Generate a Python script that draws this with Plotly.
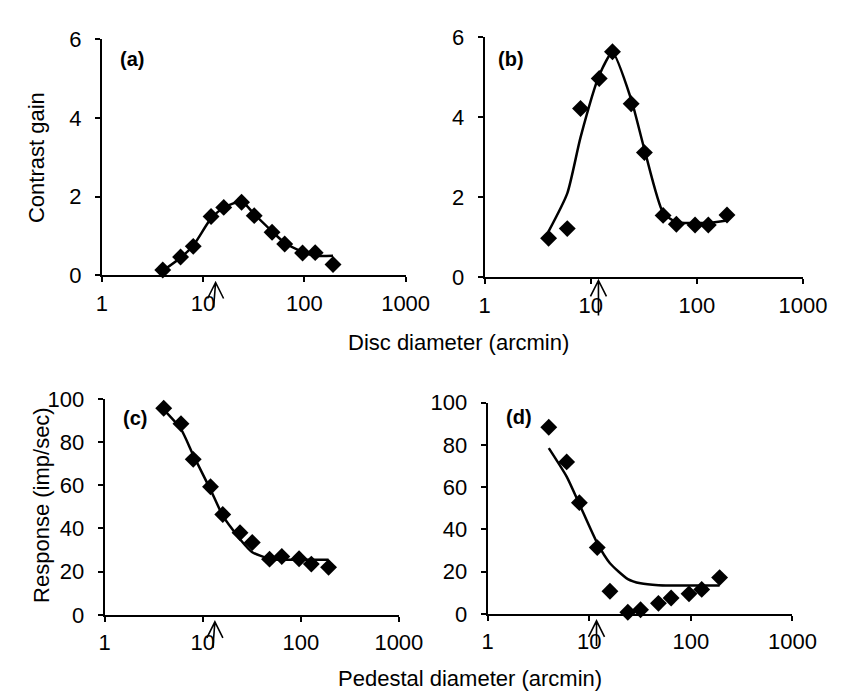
import plotly.graph_objects as go

# ---- data ----
diam = [4, 6, 8, 12, 16, 24, 32, 48, 64, 96, 128, 192]

gain_a = [0.14, 0.47, 0.74, 1.50, 1.73, 1.86, 1.52, 1.10, 0.80, 0.57, 0.58, 0.28]
fit_a = [0.12, 0.45, 0.76, 1.45, 1.72, 1.88, 1.56, 1.12, 0.83, 0.60, 0.50, 0.50]

gain_b = [0.98, 1.22, 4.22, 4.97, 5.64, 4.34, 3.12, 1.55, 1.33, 1.31, 1.31, 1.56]
fit_b = [1.15, 2.10, 3.50, 5.05, 5.62, 4.45, 3.20, 1.62, 1.38, 1.36, 1.36, 1.42]

resp_c = [95.7, 88.5, 72.0, 59.3, 46.5, 38.0, 33.5, 25.8, 27.0, 26.0, 23.5, 22.0]
fit_c = [95.0, 86.0, 74.0, 58.0, 46.0, 35.0, 29.0, 26.0, 25.5, 25.5, 25.5, 25.5]

resp_d = [88.4, 72.0, 52.7, 31.4, 10.7, 0.8, 2.0, 5.0, 7.5, 9.5, 11.6, 17.2]
fit_d = [78.5, 65.0, 52.0, 33.5, 24.0, 16.5, 14.5, 13.6, 13.5, 13.5, 13.5, 13.5]

x_ticks = [1, 10, 100, 1000]
x_ticktext = ["1", "10", "100", "1000"]
gain_ticks = [0, 2, 4, 6]
resp_ticks = [0, 20, 40, 60, 80, 100]

arrow_pos = [13.3, 11.8, 13.3, 11.8]
panel_labels = ["(a)", "(b)", "(c)", "(d)"]

W, H = 847, 697
FONT = "Arial, Liberation Sans, sans-serif"
FS = 22

def px_dom(a, b, total):
    return [a / total, b / total]

def py_dom(top, bottom):
    return [(H - bottom) / H, (H - top) / H]

domains = [
    (px_dom(91, 406, W), py_dom(20, 265)),
    (px_dom(488, 818, W), py_dom(18, 267)),
    (px_dom(94, 399, W), py_dom(393, 617)),
    (px_dom(491, 807, W), py_dom(397, 616)),
]

fig = go.Figure()

series = [(fit_a, gain_a), (fit_b, gain_b), (fit_c, resp_c), (fit_d, resp_d)]
for i, (fit, pts) in enumerate(series):
    xa = "x" if i == 0 else f"x{i+1}"
    ya = "y" if i == 0 else f"y{i+1}"
    fig.add_trace(go.Scatter(x=diam, y=fit, mode="lines",
                             line=dict(color="black", width=2.5, shape="spline", smoothing=0.6),
                             xaxis=xa, yaxis=ya, showlegend=False, hoverinfo="skip"))
    fig.add_trace(go.Scatter(x=diam, y=pts, mode="markers",
                             marker=dict(symbol="diamond", size=13, color="black"),
                             xaxis=xa, yaxis=ya, showlegend=False, cliponaxis=False))

layout = dict(width=W, height=H, margin=dict(l=0, r=0, t=0, b=0),
              paper_bgcolor="white", plot_bgcolor="white",
              font=dict(family=FONT, size=FS, color="black"))

for i, (xd, yd) in enumerate(domains):
    k = "" if i == 0 else str(i + 1)
    layout["xaxis" + k] = dict(type="log", range=[0, 3], domain=xd,
                               anchor="y" + k, tickvals=x_ticks, ticktext=x_ticktext,
                               showline=True, linecolor="black", linewidth=2,
                               ticks="outside", ticklen=5, tickwidth=1.5, tickcolor="black",
                               showgrid=False, zeroline=False, ticklabelstandoff=2,
                               tickfont=dict(size=FS, family=FONT))
    yt = gain_ticks if i < 2 else resp_ticks
    yr = [0, 6] if i < 2 else [0, 100]
    layout["yaxis" + k] = dict(range=yr, domain=yd, anchor="x" + k,
                               tickvals=yt, showline=True, linecolor="black", linewidth=2,
                               ticks="outside", ticklen=5, tickwidth=1.5, tickcolor="black",
                               showgrid=False, zeroline=False, ticklabelstandoff=9,
                               tickfont=dict(size=FS, family=FONT))

fig.update_layout(**layout)

annotations = []
label_pos = [(122, 40), (515, 40), (125, 413), (524, 412)]
for i, lab in enumerate(panel_labels):
    lx, ly = label_pos[i]
    annotations.append(dict(text=f"<b>{lab}</b>", x=lx / W, y=(H - ly) / H, xref="paper", yref="paper",
                            showarrow=False, font=dict(size=20, family=FONT), xanchor="center", yanchor="middle"))

# open arrows marking the size below each x axis (pixel-sized paths anchored at the data x)
axis_px = [265, 267, 617, 616]
tip_gap = [7, 3, 7, 7]
shaft_end = [32, 38, 33, 32]
shaft_dx = [-2, 0, -2, 0]
shapes = []
for i, xv in enumerate(arrow_pos):
    k = "" if i == 0 else str(i + 1)
    t = -tip_gap[i]
    b = -shaft_end[i]
    path = (f"M0,{t} L{shaft_dx[i]},{b} "
            f"M-8,{t - 16} L0,{t} L8,{t - 16}")
    shapes.append(dict(type="path", xref="x" + k, yref="paper",
                       xsizemode="pixel", ysizemode="pixel",
                       xanchor=xv, yanchor=(H - axis_px[i]) / H, path=path,
                       line=dict(color="black", width=1.6)))

# axis titles
annotations.append(dict(text="Disc diameter (arcmin)", x=461 / W, y=(H - 335) / H, xref="paper", yref="paper",
                        showarrow=False, font=dict(size=FS, family=FONT), xanchor="center", yanchor="middle"))
annotations.append(dict(text="Pedestal diameter (arcmin)", x=473 / W, y=(H - 683) / H, xref="paper", yref="paper",
                        showarrow=False, font=dict(size=FS, family=FONT), xanchor="center", yanchor="middle"))
annotations.append(dict(text="Contrast gain", x=24 / W, y=(H - 143) / H, xref="paper", yref="paper",
                        showarrow=False, textangle=-90, font=dict(size=FS, family=FONT), xanchor="center", yanchor="middle"))
annotations.append(dict(text="Response (imp/sec)", x=29 / W, y=(H - 503) / H, xref="paper", yref="paper",
                        showarrow=False, textangle=-90, font=dict(size=FS, family=FONT), xanchor="center", yanchor="middle"))

fig.update_layout(annotations=annotations, shapes=shapes)
fig.write_html("out.html")
